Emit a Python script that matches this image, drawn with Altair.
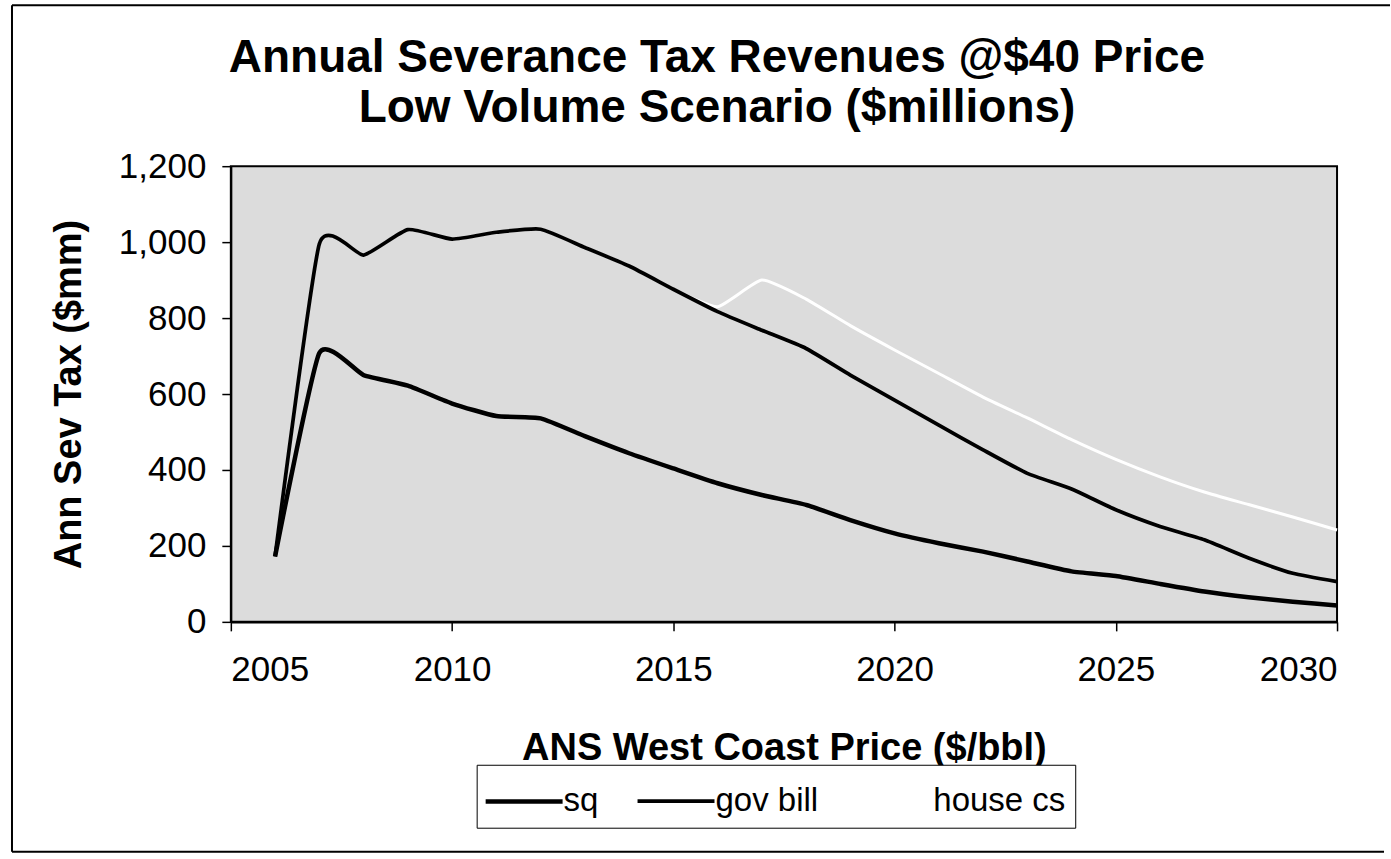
import altair as alt
import pandas as pd

# ---- data ----
years = list(range(2006, 2031))
sq = [172, 708, 650, 622, 575, 542, 536, 489, 444, 404, 365, 334, 308, 268,
      233, 207, 185, 159, 133, 121, 100, 80, 65, 53, 43]
gov_bill = [172, 995, 966, 1033, 1008, 1026, 1034, 986, 937, 876, 817, 768, 720,
            650, 584, 518, 453, 391, 350, 295, 251, 216, 168, 128, 106]
house_cs = [172, 995, 966, 1033, 1008, 1026, 1034, 986, 937, 876, 830, 900, 850,
            780, 716, 654, 592, 537, 480, 428, 382, 342, 309, 276, 242]
series_names = ["sq", "gov bill", "house cs"]
x_ticks = [2005, 2010, 2015, 2020, 2025, 2030]
y_ticks = [0, 200, 400, 600, 800, 1000, 1200]

rows = []
for name, vals in zip(series_names, [sq, gov_bill, house_cs]):
    for yr, v in zip(years, vals):
        rows.append({"year": yr, "value": v, "series": name})
df = pd.DataFrame(rows)

FONT = "Liberation Sans"

legend = alt.Legend(
    title=None,
    orient="none",
    legendX=246,
    legendY=599,
    direction="horizontal",
    columns=3,
    fillColor="white",
    strokeColor="black",
    padding=9,
    symbolType="M-1.54,0L1.54,0",
    symbolSize=2500,
    symbolOffset=11,
    labelFont=FONT,
    labelFontSize=33,
    labelColor="black",
    labelOffset=12,
    columnPadding=31,
    labelLimit=300,
)

x_enc = alt.X(
    "year:Q",
    scale=alt.Scale(domain=[2005, 2030], nice=False, zero=False),
    axis=alt.Axis(
        values=x_ticks, format="d", title="ANS West Coast Price ($/bbl)",
        labelFont=FONT, labelFontSize=35, labelColor="black", labelPadding=22,
        tickSize=9, tickColor="black", tickWidth=1.5,
        domainColor="black", domainWidth=2.5, grid=False,
        titleFont=FONT, titleFontSize=38, titleFontWeight="bold",
        titleColor="black", titlePadding=42,
    ),
)
y_enc = alt.Y(
    "value:Q",
    scale=alt.Scale(domain=[0, 1200], nice=False),
    axis=alt.Axis(
        values=y_ticks, format=",d", title="Ann Sev Tax ($mm)",
        labelFont=FONT, labelFontSize=35, labelColor="black", labelPadding=16,
        tickSize=9, tickColor="black", tickWidth=1.5,
        domainColor="black", domainWidth=2, grid=False,
        titleFont=FONT, titleFontSize=38, titleFontWeight="bold",
        titleColor="black", titlePadding=30,
    ),
)
color_enc = alt.Color(
    "series:N",
    scale=alt.Scale(domain=series_names, range=["#000000", "#000000", "#ffffff"]),
    legend=legend,
)
sw_enc = alt.StrokeWidth(
    "series:N",
    scale=alt.Scale(domain=series_names, range=[4.5, 3, 2.5]),
    legend=legend,
)

base = alt.Chart(df)


def series_layer(name):
    return (
        base.transform_filter(alt.datum.series == name)
        .mark_line(interpolate="cardinal", tension=0.5)
        .encode(x=x_enc, y=y_enc, color=color_enc, strokeWidth=sw_enc)
    )


frame_data = alt.Data(values=[{"k": 1}])
frame_top = alt.Chart(frame_data).mark_rule(color="black", strokeWidth=2).encode(
    x=alt.value(-219), x2=alt.value(1160), y=alt.value(-161)
)
frame_bottom = alt.Chart(frame_data).mark_rule(color="black", strokeWidth=2).encode(
    x=alt.value(-219), x2=alt.value(1154), y=alt.value(686)
)
frame_left = alt.Chart(frame_data).mark_rule(color="black", strokeWidth=2).encode(
    x=alt.value(-219), y=alt.value(-161), y2=alt.value(686)
)

chart = (
    alt.layer(
        series_layer("house cs"),
        series_layer("gov bill"),
        series_layer("sq"),
        frame_top,
        frame_bottom,
        frame_left,
    )
    .properties(
        width=1107,
        height=456,
        padding={"left": 11, "top": 4, "right": 0, "bottom": 0},
        background="white",
        title=alt.TitleParams(
            text=["Annual Severance Tax Revenues @$40 Price",
                  "Low Volume Scenario ($millions)"],
            font=FONT,
            fontSize=46,
            fontWeight="bold",
            color="black",
            anchor="middle",
            dx=-67,
            offset=-128,
            lineHeight=50,
        ),
    )
    .configure_view(fill="#dcdcdc", stroke="black", strokeWidth=2)
)

chart.save("out.html", embed_options={"renderer": "svg", "actions": False})
